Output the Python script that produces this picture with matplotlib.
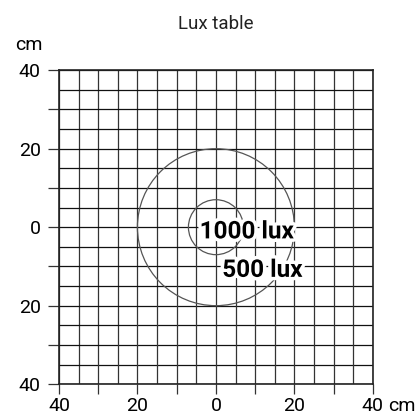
import numpy as np
import matplotlib
matplotlib.use("Agg")
import matplotlib.pyplot as plt
import matplotlib.patheffects as pe
from matplotlib.patches import Circle

plt.rcParams['font.family'] = ['Roboto', 'DejaVu Sans']

# data
grid_step = 5
axis_limit = 40
major_ticks = [-40, -30, -20, -10, 0, 10, 20, 30, 40]
tick_labels = ['40', '', '20', '', '0', '', '20', '', '40']
radii = [20, 7]
lux_labels = ['1000 lux', '500 lux']
label_pos = [(7.8, -1.2), (11.8, -11.0)]

fig = plt.figure(figsize=(4.18, 4.18), dpi=100)
ax = fig.add_axes([0.141, 0.081, 0.751, 0.751])
ax.set_xlim(-axis_limit, axis_limit)
ax.set_ylim(-axis_limit, axis_limit)
ax.set_aspect('equal')

minor = np.arange(-axis_limit, axis_limit + 1, grid_step)
for v in minor:
    ax.axvline(v, color='#333333', lw=0.9, zorder=1)
    ax.axhline(v, color='#111111', lw=0.9, zorder=1)

for r in radii:
    ax.add_patch(Circle((0, 0), r, fill=False, ec='#555555', lw=0.9, zorder=2))

for txt, (x, y) in zip(lux_labels, label_pos):
    ax.text(x, y, txt, ha='center', va='center', fontsize=17.5, fontweight='bold',
            color='black', zorder=4,
            path_effects=[pe.withStroke(linewidth=5, foreground='white')])

ax.set_xticks(major_ticks)
ax.set_yticks(major_ticks)
ax.set_xticklabels(tick_labels)
ax.set_yticklabels(tick_labels)
ax.tick_params(length=7, width=0.9, color='#333333', labelsize=14, pad=2)
ax.tick_params(axis='y', length=8, pad=5)
for s in ax.spines.values():
    s.set_linewidth(1.2)
    s.set_color('#222222')

ax.set_title('Lux table', fontsize=13.5, color='#222222', pad=30)
fig.text(0.068, 0.893, 'cm', fontsize=14, ha='center', va='center')
ax.text(1.05, -0.04, 'cm', transform=ax.transAxes, fontsize=14, ha='left', va='top')

fig.savefig('out.png', dpi=100)
